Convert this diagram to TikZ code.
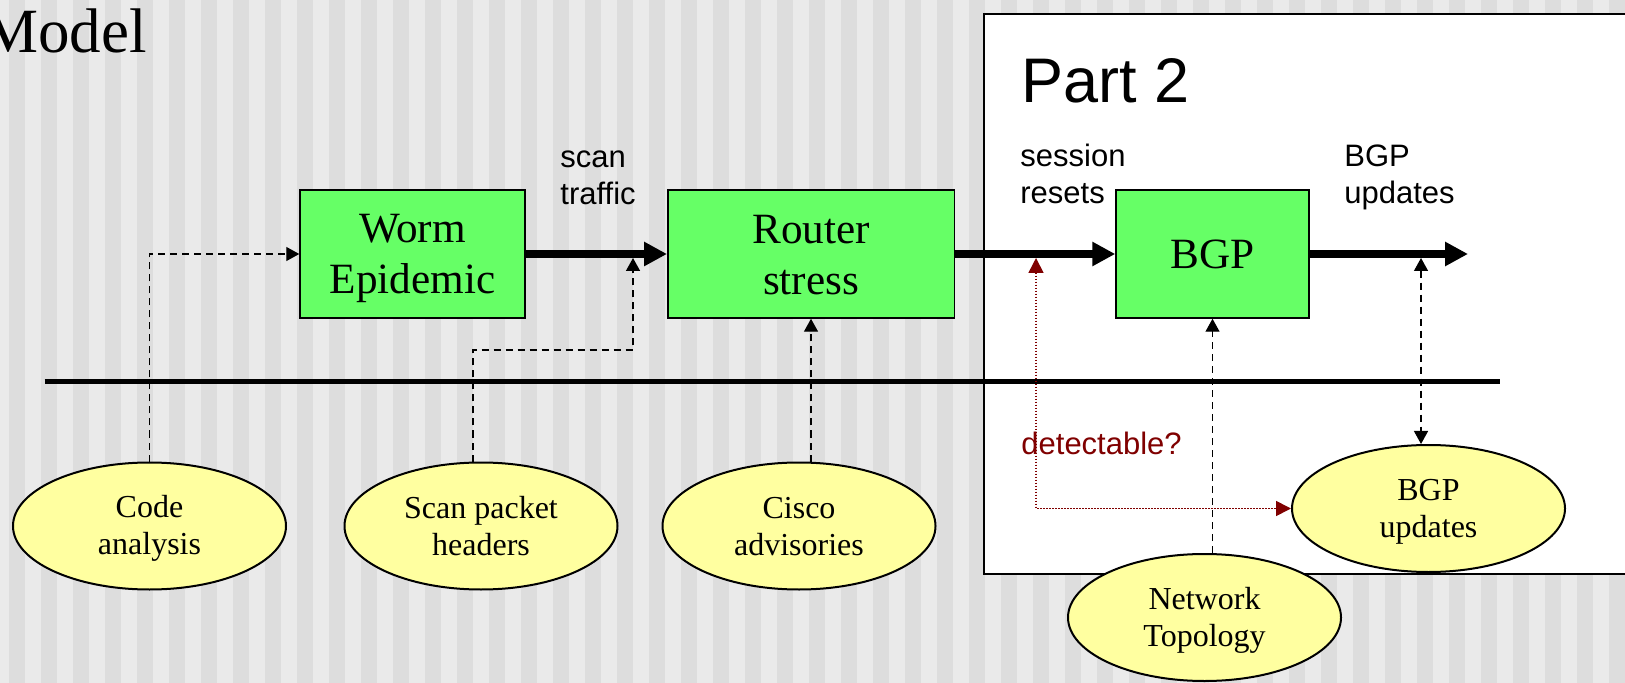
\documentclass[tikz,border=0pt]{standalone}
\usepackage{fontspec}
\setmainfont{Liberation Serif}
\newfontfamily\sanslabel{Liberation Sans}[Ligatures=CommonOff]
\usetikzlibrary{arrows.meta,positioning,shapes.geometric}
\definecolor{stripelight}{RGB}{234,234,234}
\definecolor{stripedark}{RGB}{221,221,221}
\definecolor{blockgreen}{RGB}{102,255,102}
\definecolor{sourceyellow}{RGB}{255,255,160}
\definecolor{probered}{RGB}{128,0,0}
\newcommand{\blockstrut}{\rule[-3.5pt]{0pt}{22pt}}
\newcommand{\sourcestrut}{\rule[-2.5pt]{0pt}{16pt}}

\begin{document}
\begin{tikzpicture}[x=0.5pt, y=-0.5pt,
    >={Triangle[length=6.5pt,width=7pt]},
    block/.style={draw, line width=0.75pt, fill=blockgreen, minimum height=64pt, inner sep=0pt, align=center,
        font=\fontsize{21.6}{25.5}\selectfont},
    source/.style={ellipse, draw, line width=1pt, fill=sourceyellow, minimum width=136.5pt, minimum height=63.5pt, inner sep=0pt, align=center,
        font=\fontsize{16}{18.5}\selectfont},
    lbl/.style={inner sep=0pt, anchor=base west, align=left, font=\sanslabel\fontsize{15.5}{18.75}\selectfont},
    flow/.style={line width=4pt, -{Triangle[length=11.5pt,width=11.5pt]}},
    feed/.style={line width=0.7pt, dash pattern=on 3.5pt off 2.5pt},
    probe/.style={line width=0.8pt, probered, dash pattern=on 0.8pt off 0.7pt, {Triangle[length=7.5pt,width=7.5pt]}-{Triangle[length=7.5pt,width=7.5pt]}}
]
\clip (0,0) rectangle (1625,683);

% Striped backdrop
\fill[stripelight] (0,0) rectangle (1625,683);
\foreach \sx in {9,41,...,1625}
    \fill[stripedark] (\sx,0) rectangle ++(16,683);

% Part 2 panel
\draw[line width=1pt, fill=white] (984,14) rectangle (1640,574);
\node[anchor=base west, inner sep=0pt, font=\sanslabel\fontsize{31.5}{36}\selectfont] (parttwo) at (1021,103) {Part\ 2};
\node[anchor=base east, inner sep=0pt, font=\fontsize{31.5}{36}\selectfont] (title) at (147,53) {Model};

% Model stages
\node[block, minimum width=112.5pt] (worm) at (412.5,254) {Worm\blockstrut\\Epidemic\blockstrut};
\node[block, minimum width=143.25pt] (router) at (811,254) {Router\blockstrut\\stress\blockstrut};
\node[block, minimum width=96.5pt] (bgp) at (1212.5,254) {BGP\blockstrut};
\coordinate (outend) at (1468,254);

% Stage outputs (base = last line)
\node[lbl] (scanlbl) at (560,205) {scan\\traffic};
\node[lbl] (resetlbl) at (1020,204) {session\\resets};
\node[lbl] (updlbl) at (1344,204) {BGP\\updates};

\draw[flow] (worm.east) -- (router.west);
\draw[flow] (router.east) -- (bgp.west);
\draw[flow] (bgp.east) -- (outend);

% Divider
\draw[line width=2.5pt] (44.5,382) -- (1500,382);

% Data sources
\node[source] (code) at (149.5,526) {Code\sourcestrut\\analysis\sourcestrut};
\node[source] (scan) at (481,526) {Scan packet\sourcestrut\\headers\sourcestrut};
\node[source] (cisco) at (799,526) {Cisco\sourcestrut\\advisories\sourcestrut};
\node[source] (upd) at (1428.5,508.5) {BGP\sourcestrut\\updates\sourcestrut};
\node[source] (topo) at (1204.5,617.5) {Network\sourcestrut\\Topology\sourcestrut};

% Taps on the flow
\coordinate (scanbend) at (633,350);
\coordinate (scantap) at (633,258);
\coordinate (resettap) at (1036,258);
\coordinate (updtap) at (1421,258);

\draw[feed, ->] (code.north) |- (worm.west);
\draw[feed, ->] ([xshift=-4pt]scan.north) |- (scanbend) -- (scantap);
\draw[feed, ->] (cisco.north -| router.south) -- (router.south);
\draw[feed, ->] (topo.north -| bgp.south) -- (bgp.south);
\draw[feed, <->] (updtap) -- (updtap |- upd.north);

% Open question
\draw[probe] (resettap) |- (upd.west);
\node[lbl, probered] (detlbl) at (1021,454) {detectable?};
\end{tikzpicture}
\end{document}
